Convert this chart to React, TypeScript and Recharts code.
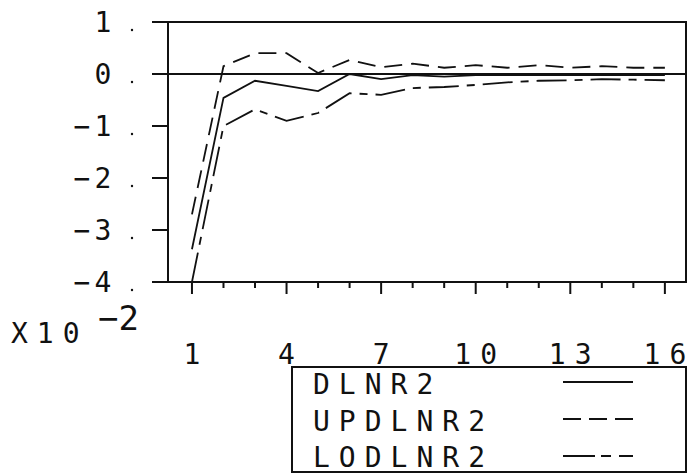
import React from 'react';
import { LineChart, Line, XAxis, YAxis, ReferenceLine, ReferenceArea, Legend } from 'recharts';

// values are in units of 10^-2
const xValues = [1, 2, 3, 4, 5, 6, 7, 8, 9, 10, 11, 12, 13, 14, 15, 16];
const dlnr2 = [-3.37, -0.46, -0.13, -0.23, -0.33, 0.0, -0.1, -0.02, -0.05, -0.02, -0.02, -0.02, -0.02, -0.02, -0.02, -0.02];
const updlnr2 = [-2.7, 0.15, 0.4, 0.4, 0.02, 0.27, 0.13, 0.2, 0.12, 0.17, 0.12, 0.17, 0.12, 0.15, 0.12, 0.12];
const lodlnr2 = [-4.0, -1.0, -0.68, -0.9, -0.75, -0.37, -0.4, -0.27, -0.25, -0.21, -0.16, -0.13, -0.12, -0.1, -0.11, -0.12];

const yTicks = [-4, -3, -2, -1, 0, 1];
const xTicks = [1, 2, 3, 4, 5, 6, 7, 8, 9, 10, 11, 12, 13, 14, 15, 16];
const xLabelTicks = [1, 4, 7, 10, 13, 16];
const xDomain = [0.24, 16.67];
const yDomain = [-4, 1];

const seriesNames = ['DLNR2', 'UPDLNR2', 'LODLNR2'];
const seriesDashes = ['', '18 9', '30 8 8 8'];
const legendDashes = ['', '18 8', '32 6 10 8'];

const data = xValues.map((x, i) => ({
  x,
  DLNR2: dlnr2[i],
  UPDLNR2: updlnr2[i],
  LODLNR2: lodlnr2[i],
}));

const INK = '#111';
const FONT = '"DejaVu Sans Mono", monospace';

// x labels are drawn one digit at a time so the wide spacing stays centred
const XTick = (props: any) => {
  const { x, y, payload } = props;
  const major = xLabelTicks.includes(payload.value);
  const chars = String(payload.value).split('');
  return (
    <g>
      <line x1={x} x2={x} y1={y} y2={y + (major ? 12 : 6)} stroke={INK} strokeWidth={2} />
      {major &&
        chars.map((c, k) => (
          <text
            key={k}
            x={x + (k - (chars.length - 1) / 2) * 26}
            y={y + 82}
            textAnchor="middle"
            fontFamily={FONT}
            fontSize={28}
            fill={INK}
          >
            {c}
          </text>
        ))}
    </g>
  );
};

const YTick = (props: any) => {
  const { x, y, payload } = props;
  const v = payload.value;
  return (
    <g>
      <line x1={x - 16} x2={x} y1={y} y2={y} stroke={INK} strokeWidth={2} />
      {v < 0 && (
        <text x={x - 86} y={y + 10} textAnchor="middle" fontFamily={FONT} fontSize={28} fill={INK}>
          {'\u2212'}
        </text>
      )}
      <text x={x - 65} y={y + 10} textAnchor="middle" fontFamily={FONT} fontSize={28} fill={INK}>
        {Math.abs(v)}
      </text>
      <circle cx={x - 36} cy={y + 8} r={1.2} fill={INK} />
    </g>
  );
};

const renderLegend = () => (
  <svg width={397} height={108} style={{ display: 'block' }}>
    <rect x={1} y={1} width={394} height={105} fill="#fff" stroke={INK} strokeWidth={2} />
    {seriesNames.map((name, i) => (
      <g key={name}>
        <text x={22} y={28 + i * 36.5} fontFamily={FONT} fontSize={28} letterSpacing={9} fill={INK}>
          {name}
        </text>
        <line
          x1={272}
          x2={342}
          y1={16 + i * 37}
          y2={16 + i * 37}
          stroke={INK}
          strokeWidth={1.8}
          strokeDasharray={legendDashes[i] || undefined}
        />
      </g>
    ))}
  </svg>
);

export default function App() {
  return (
    <div style={{ position: 'absolute', left: 0, top: 0, background: '#fff' }}>
      <LineChart width={688} height={475} data={data} margin={{ top: 22, right: 2, bottom: 0, left: 0 }}>
        <XAxis
          dataKey="x"
          type="number"
          domain={xDomain}
          ticks={xTicks}
          interval={0}
          height={193}
          tickSize={0}
          tickMargin={0}
          axisLine={false}
          tickLine={false}
          tick={<XTick />}
          allowDataOverflow
        />
        <YAxis
          type="number"
          domain={yDomain}
          ticks={yTicks}
          interval={0}
          width={168}
          tickSize={0}
          tickMargin={0}
          axisLine={false}
          tickLine={false}
          tick={<YTick />}
          allowDataOverflow
        />
        <ReferenceArea x1={xDomain[0]} x2={xDomain[1]} y1={yDomain[0]} y2={yDomain[1]} fill="none" stroke={INK} strokeWidth={2} />
        <ReferenceLine y={0} stroke={INK} strokeWidth={2} />
        {seriesNames.map((name, i) => (
          <Line
            key={name}
            type="linear"
            dataKey={name}
            stroke={INK}
            strokeWidth={1.8}
            strokeDasharray={seriesDashes[i] || undefined}
            dot={false}
            isAnimationActive={false}
          />
        ))}
        <Legend
          content={renderLegend}
          layout="horizontal"
          verticalAlign="middle"
          align="center"
          wrapperStyle={{ left: 291, top: 366, width: 397, height: 108 }}
        />
      </LineChart>
      <svg width={160} height={60} style={{ position: 'absolute', left: 0, top: 295 }}>
        <text x={11} y={48} fontFamily={FONT} fontSize={28} letterSpacing={9} fill={INK}>X10</text>
        <text x={98} y={35} fontFamily={FONT} fontSize={34} fill={INK}>{'\u22122'}</text>
      </svg>
    </div>
  );
}
